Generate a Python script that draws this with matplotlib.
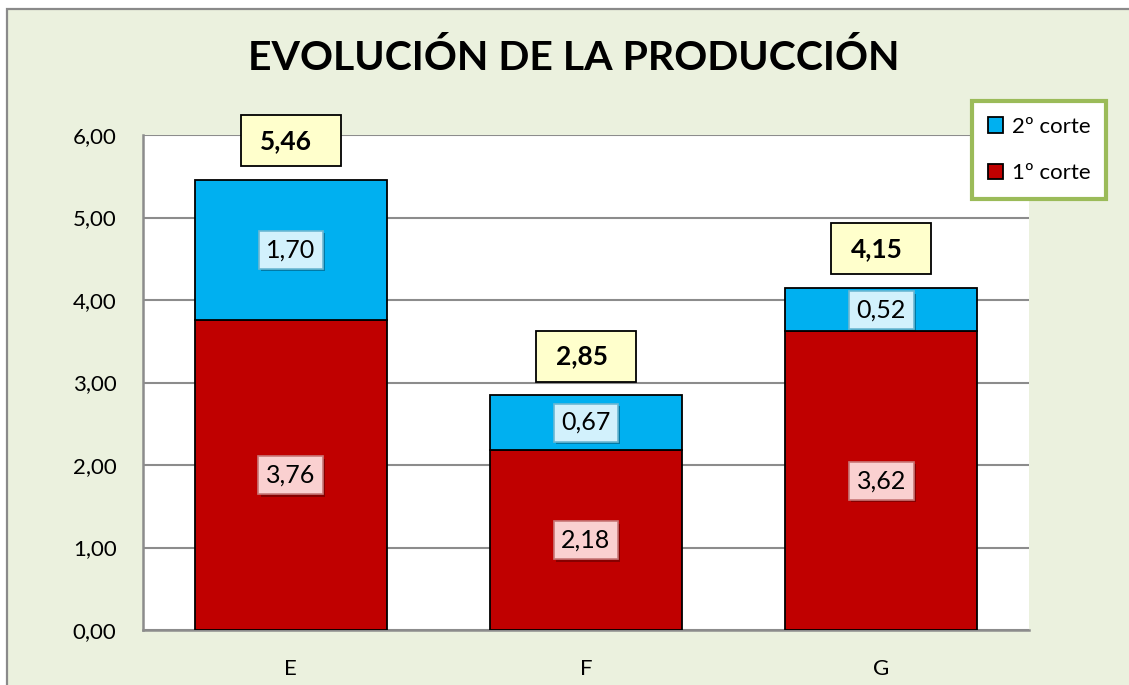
import matplotlib
matplotlib.use("Agg")
import matplotlib.pyplot as plt
import matplotlib.patheffects as pe
from matplotlib.patches import Rectangle
from matplotlib.ticker import FuncFormatter

plt.rcParams["font.family"] = ["Lato", "DejaVu Sans"]

categories = ["E", "F", "G"]
corte1 = [3.76, 2.18, 3.62]
corte2 = [1.70, 0.67, 0.52]
totals = [5.46, 2.85, 4.15]

BLUE, RED = "#00B0F0", "#C00000"
BG = "#EBF1DE"
GRID = "#8C8C8C"


def comma(v, _=None):
    return f"{v:.2f}".replace(".", ",")


fig = plt.figure(figsize=(11.29, 6.85), dpi=100, facecolor="white")
# outer chart frame
fig.patches.append(Rectangle((7 / 1129, -0.1), 1.2, 1.1 - 9 / 685,
                             transform=fig.transFigure, facecolor=BG,
                             edgecolor="#8A8A8A", lw=1.6, zorder=-10))

ax = fig.add_axes([143 / 1129, 55 / 685, 886 / 1129, 495 / 685])
ax.set_zorder(1)
ax.set_facecolor("white")

x = list(range(len(categories)))
width = 0.65
ax.bar(x, corte1, width, color=RED, edgecolor="black", lw=1.3, zorder=3, label="1º corte")
ax.bar(x, corte2, width, bottom=corte1, color=BLUE, edgecolor="black", lw=1.3,
       zorder=3, label="2º corte")

ax.set_xlim(-0.5, len(categories) - 0.5)
ax.set_ylim(0, 6)
ax.set_yticks(range(0, 7))
ax.yaxis.set_major_formatter(FuncFormatter(comma))
ax.set_xticks(x)
ax.set_xticklabels(categories)
ax.tick_params(axis="both", length=0, labelsize=16)
ax.tick_params(axis="y", pad=19)
ax.tick_params(axis="x", pad=21)
ax.yaxis.grid(True, color=GRID, lw=1.5, zorder=1)
ax.set_axisbelow(True)
for s in ["right", "top"]:
    ax.spines[s].set_visible(False)
for s in ["left", "bottom"]:
    ax.spines[s].set_color(GRID)
    ax.spines[s].set_linewidth(1.8)

# segment value labels with a soft drop shadow
shadow = [pe.SimplePatchShadow(offset=(1.5, -2), shadow_rgbFace="#000000", alpha=0.3),
          pe.Normal()]
for i in x:
    t1 = ax.text(i, corte1[i] / 2, comma(corte1[i]), ha="center", va="center",
                 fontsize=18, zorder=5,
                 bbox=dict(boxstyle="square,pad=0.3", fc="#FAD0D0", ec="#C87878", lw=1.2))
    t2 = ax.text(i, corte1[i] + corte2[i] / 2, comma(corte2[i]), ha="center",
                 va="center", fontsize=18, zorder=5,
                 bbox=dict(boxstyle="square,pad=0.3", fc="#D2F1FC", ec="#6CB8D2", lw=1.2))
    for t in (t1, t2):
        t.get_bbox_patch().set_path_effects(shadow)

# total boxes above bars
box_w, box_h, gap = 0.338, 0.62, 0.16
for i in x:
    ax.add_patch(Rectangle((i - box_w / 2, totals[i] + gap), box_w, box_h, fc="#FFFFCC",
                           ec="black", lw=1.3, zorder=6, clip_on=False))
    ax.text(i - 0.015, totals[i] + gap + box_h / 2, comma(totals[i]), ha="center",
            va="center", fontsize=19, fontweight="bold", zorder=7, clip_on=False)

fig.text(0.508, 1 - 58 / 685, "EVOLUCIÓN DE LA PRODUCCIÓN", ha="center", va="center",
         fontsize=29.5, fontweight="bold")

handles, labels = ax.get_legend_handles_labels()
leg = fig.legend(handles[::-1], labels[::-1], loc="upper left",
                 bbox_to_anchor=(972 / 1129, 1 - 101 / 685), fontsize=16, frameon=True,
                 fancybox=False, edgecolor="#9BBB59", facecolor="white", framealpha=1,
                 handlelength=0.7, handleheight=0.7, handletextpad=0.4, labelspacing=1.2,
                 borderpad=0.7, borderaxespad=0)
leg.get_frame().set_linewidth(3)
leg.set_zorder(10)

fig.savefig("out.png", dpi=100, facecolor=fig.get_facecolor())
